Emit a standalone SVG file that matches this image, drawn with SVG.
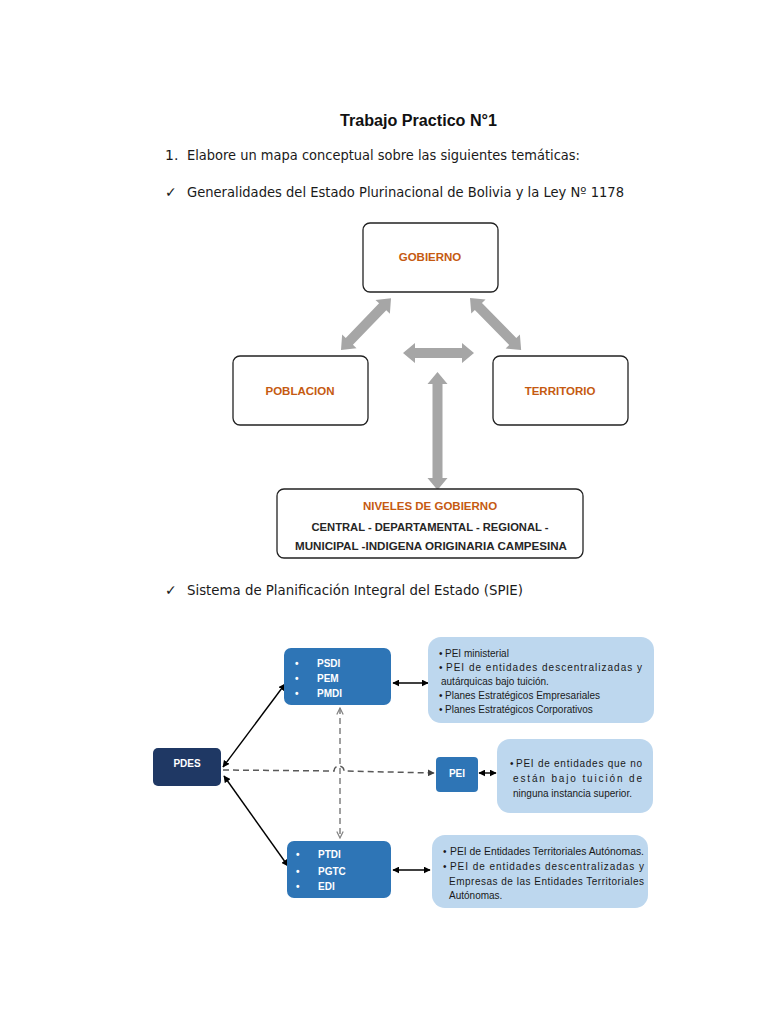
<svg xmlns="http://www.w3.org/2000/svg" width="768" height="1024" viewBox="0 0 768 1024">
<defs>
<style>
.doc{font-family:"DejaVu Sans","Liberation Sans",sans-serif;font-size:14px;fill:#1a1a1a}
.ttl{font-family:"Liberation Sans",sans-serif;font-size:16px;font-weight:bold;fill:#111}
.box{fill:#fff;stroke:#222;stroke-width:1.3}
.or{font-family:"Liberation Sans",sans-serif;font-size:11.5px;font-weight:bold;fill:#C55A11;text-anchor:middle}
.dk{font-family:"Liberation Sans",sans-serif;font-size:11.5px;font-weight:bold;fill:#262626;text-anchor:middle}
.blk{fill:#A6A6A6}
.mid{fill:#2E75B6}
.navy{fill:#1F3864}
.lt{fill:#BDD7EE}
.wt{font-family:"Liberation Sans",sans-serif;font-size:10px;font-weight:bold;fill:#fff}
.bt{font-family:"Liberation Sans",sans-serif;font-size:10px;fill:#1a1a1a}
.sol{fill:none;stroke:#000;stroke-width:1.4}
.dsh{fill:none;stroke:#595959;stroke-width:1.5;stroke-dasharray:6,4}
.dshv{fill:none;stroke:#808080;stroke-width:1.5;stroke-dasharray:6,4}
</style>
<marker id="ah" viewBox="0 0 10 10" refX="9" refY="5" markerWidth="7" markerHeight="7" markerUnits="userSpaceOnUse" orient="auto-start-reverse"><path d="M0,0 L10,5 L0,10 Z" fill="#000"/></marker>
<marker id="ahg" viewBox="0 0 10 10" refX="9" refY="5" markerWidth="7" markerHeight="7" markerUnits="userSpaceOnUse" orient="auto-start-reverse"><path d="M0,0 L10,5 L0,10 Z" fill="#404040"/></marker>
<marker id="chev" viewBox="0 0 10 10" refX="9" refY="5" markerWidth="8" markerHeight="8" markerUnits="userSpaceOnUse" orient="auto-start-reverse"><path d="M1,1 L9,5 L1,9" fill="none" stroke="#808080" stroke-width="1.5"/></marker>
</defs>
<rect width="768" height="1024" fill="#fff"/>

<text class="ttl" x="340" y="126" textLength="157" lengthAdjust="spacingAndGlyphs">Trabajo Practico N°1</text>
<text class="doc" x="165" y="160">1.</text>
<text class="doc" x="187" y="160" textLength="393" lengthAdjust="spacingAndGlyphs">Elabore un mapa conceptual sobre las siguientes temáticas:</text>
<text class="doc" x="165" y="197">✓</text>
<text class="doc" x="187" y="197" textLength="437" lengthAdjust="spacingAndGlyphs">Generalidades del Estado Plurinacional de Bolivia y la Ley Nº 1178</text>

<g id="arrows-top">
<polygon class="blk" transform="translate(341,350) rotate(-46)" points="0,0 12,-10 12,-5 60,-5 60,-10 72,0 60,10 60,5 12,5 12,10"/>
<polygon class="blk" transform="translate(470,298) rotate(45.5)" points="0,0 12,-10 12,-5 61,-5 61,-10 73,0 61,10 61,5 12,5 12,10"/>
<polygon class="blk" transform="translate(403,353)" points="0,0 12,-10 12,-5 59,-5 59,-10 71,0 59,10 59,5 12,5 12,10"/>
<polygon class="blk" transform="translate(437.5,372) rotate(90)" points="0,0 12,-10 12,-5 106,-5 106,-10 118,0 106,10 106,5 12,5 12,10"/>
</g>

<g id="gobierno"><rect class="box" x="363" y="223" width="135" height="69" rx="7"/><text class="or" x="430" y="261">GOBIERNO</text></g>
<g id="poblacion"><rect class="box" x="233" y="356" width="135" height="69" rx="7"/><text class="or" x="300" y="395">POBLACION</text></g>
<g id="territorio"><rect class="box" x="493" y="356" width="135" height="69" rx="7"/><text class="or" x="560" y="395">TERRITORIO</text></g>
<g id="niveles"><rect class="box" x="277" y="489" width="306" height="69" rx="7"/>
<text class="or" x="430" y="510" font-size="12">NIVELES DE GOBIERNO</text>
<text class="dk" x="430" y="531" textLength="237" lengthAdjust="spacingAndGlyphs">CENTRAL - DEPARTAMENTAL - REGIONAL -</text>
<text class="dk" x="431" y="550" textLength="272" lengthAdjust="spacingAndGlyphs">MUNICIPAL -INDIGENA ORIGINARIA CAMPESINA</text></g>

<text class="doc" x="165" y="595">✓</text>
<text class="doc" x="187" y="595" textLength="336" lengthAdjust="spacingAndGlyphs">Sistema de Planificación Integral del Estado (SPIE)</text>

<g id="connectors">
<path class="sol" d="M223,767 L285,684" marker-start="url(#ah)" marker-end="url(#ah)"/>
<path class="sol" d="M224,776 L288,866" marker-start="url(#ah)" marker-end="url(#ah)"/>
<path class="dsh" d="M223,770 L334,771 A5,5 0 0 1 344,771 L434,773" marker-end="url(#ahg)"/>
<path class="dshv" d="M340,708 L340,838" marker-start="url(#chev)" marker-end="url(#chev)"/>
<path class="sol" d="M393,683 L428,683" marker-start="url(#ah)" marker-end="url(#ah)"/>
<path class="sol" d="M479,773 L496,773" stroke-width="1.2" marker-start="url(#ah)" marker-end="url(#ah)"/>
<path class="sol" d="M393,870 L430,870" marker-start="url(#ah)" marker-end="url(#ah)"/>
</g>

<g id="pdes"><rect class="navy" x="153" y="748" width="68" height="38" rx="5"/><text class="wt" x="187" y="767" text-anchor="middle">PDES</text></g>

<g id="psdi"><rect class="mid" x="284" y="648" width="107" height="57" rx="7"/>
<text class="wt" x="295" y="667">•</text><text class="wt" x="317" y="667">PSDI</text>
<text class="wt" x="295" y="682">•</text><text class="wt" x="317" y="682">PEM</text>
<text class="wt" x="295" y="697">•</text><text class="wt" x="317" y="697">PMDI</text></g>

<g id="pei"><rect class="mid" x="436" y="757" width="42" height="35" rx="4"/><text class="wt" x="457" y="777" text-anchor="middle">PEI</text></g>

<g id="ptdi"><rect class="mid" x="287" y="841" width="104" height="57" rx="7"/>
<text class="wt" x="296" y="858">•</text><text class="wt" x="318" y="858">PTDI</text>
<text class="wt" x="296" y="875">•</text><text class="wt" x="318" y="875">PGTC</text>
<text class="wt" x="296" y="890">•</text><text class="wt" x="318" y="890">EDI</text></g>

<g id="box-ministerial"><rect class="lt" x="428" y="637" width="226" height="86" rx="13"/>
<text class="bt" x="439" y="657">•</text><text class="bt" x="445" y="657">PEI ministerial</text>
<text class="bt" x="439" y="671">•</text><text class="bt" x="446" y="671" textLength="196" lengthAdjust="spacing">PEI de entidades descentralizadas y</text>
<text class="bt" x="441" y="685">autárquicas bajo tuición.</text>
<text class="bt" x="439" y="699">•</text><text class="bt" x="445" y="699">Planes Estratégicos Empresariales</text>
<text class="bt" x="439" y="713">•</text><text class="bt" x="445" y="713">Planes Estratégicos Corporativos</text></g>

<g id="box-pei"><rect class="lt" x="497" y="739" width="156" height="74" rx="13"/>
<text class="bt" x="510" y="767">•</text><text class="bt" x="516" y="767" textLength="126" lengthAdjust="spacing">PEI de entidades que no</text>
<text class="bt" x="513" y="782" textLength="129" lengthAdjust="spacing">están bajo tuición de</text>
<text class="bt" x="513" y="797">ninguna instancia superior.</text></g>

<g id="box-territoriales"><rect class="lt" x="432" y="835" width="216" height="73" rx="13"/>
<text class="bt" x="443" y="855">•</text><text class="bt" x="450" y="855" textLength="194" lengthAdjust="spacingAndGlyphs">PEI de Entidades Territoriales Autónomas.</text>
<text class="bt" x="443" y="870">•</text><text class="bt" x="450" y="870" textLength="194" lengthAdjust="spacing">PEI de entidades descentralizadas y</text>
<text class="bt" x="449" y="885" textLength="195" lengthAdjust="spacing">Empresas de las Entidades Territoriales</text>
<text class="bt" x="449" y="899">Autónomas.</text></g>
</svg>
